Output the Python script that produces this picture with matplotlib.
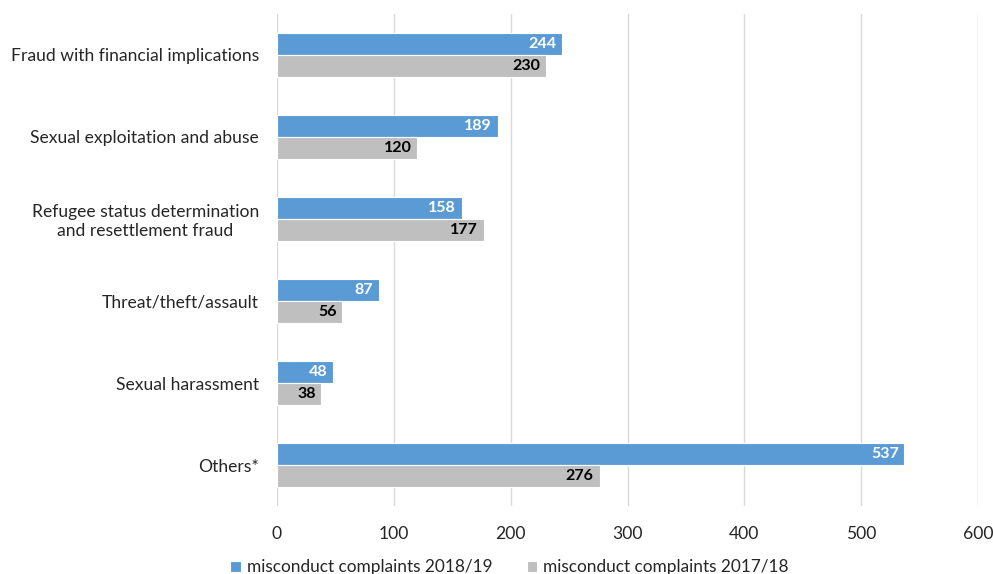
import matplotlib
matplotlib.use("Agg")
import matplotlib.pyplot as plt
import numpy as np

categories = ["Fraud with financial implications", "Sexual exploitation and abuse",
              "Refugee status determination\nand resettlement fraud", "Threat/theft/assault",
              "Sexual harassment", "Others*"]
values_2018 = [244, 189, 158, 87, 48, 537]
values_2017 = [230, 120, 177, 56, 38, 276]
series_names = ["misconduct complaints 2018/19", "misconduct complaints 2017/18"]
xticks = [0, 100, 200, 300, 400, 500, 600]

plt.rcParams['font.family'] = ['Lato', 'DejaVu Sans']
fig = plt.figure(figsize=(9.93, 5.74), dpi=100)
ax = fig.add_axes([0.279, 0.118, 0.706, 0.858])

blue = "#5B9BD5"
gray = "#BFBFBF"
n = len(categories)
y = np.arange(n)
h = 0.265
b1 = ax.barh(y - h/2, values_2018, height=h, color=blue, edgecolor="white", linewidth=0.8, label=series_names[0], zorder=3)
b2 = ax.barh(y + h/2, values_2017, height=h, color=gray, edgecolor="white", linewidth=0.8, label=series_names[1], zorder=3)
for rect, v in zip(b1, values_2018):
    ax.text(v - 5, rect.get_y() + rect.get_height()/2, str(v), ha="right", va="center",
            color="white", fontsize=11.5, fontweight="bold", zorder=4)
for rect, v in zip(b2, values_2017):
    ax.text(v - 5, rect.get_y() + rect.get_height()/2, str(v), ha="right", va="center",
            color="black", fontsize=11.5, fontweight="bold", zorder=4)

ax.set_ylim(n - 0.5, -0.5)
ax.set_xlim(0, 600)
ax.set_xticks(xticks)
ax.set_yticks(y)
ax.set_yticklabels(categories, fontsize=12.6, color="#262626", ha="right", multialignment="center")
ax.tick_params(axis="y", length=0, pad=13)
ax.tick_params(axis="x", length=0, labelsize=12.6, labelcolor="#262626", pad=14)
ax.grid(axis="x", color="#D9D9D9", linewidth=1, zorder=0)
for s in ax.spines.values():
    s.set_visible(False)

fig.legend(handles=[b1, b2], labels=series_names, loc="center", bbox_to_anchor=(0.513, 0.012),
           ncol=2, frameon=False, fontsize=12.4, handlelength=0.6, handleheight=0.6,
           columnspacing=2.0, handletextpad=0.35, labelcolor="#262626")

fig.savefig("out.png", dpi=100)
